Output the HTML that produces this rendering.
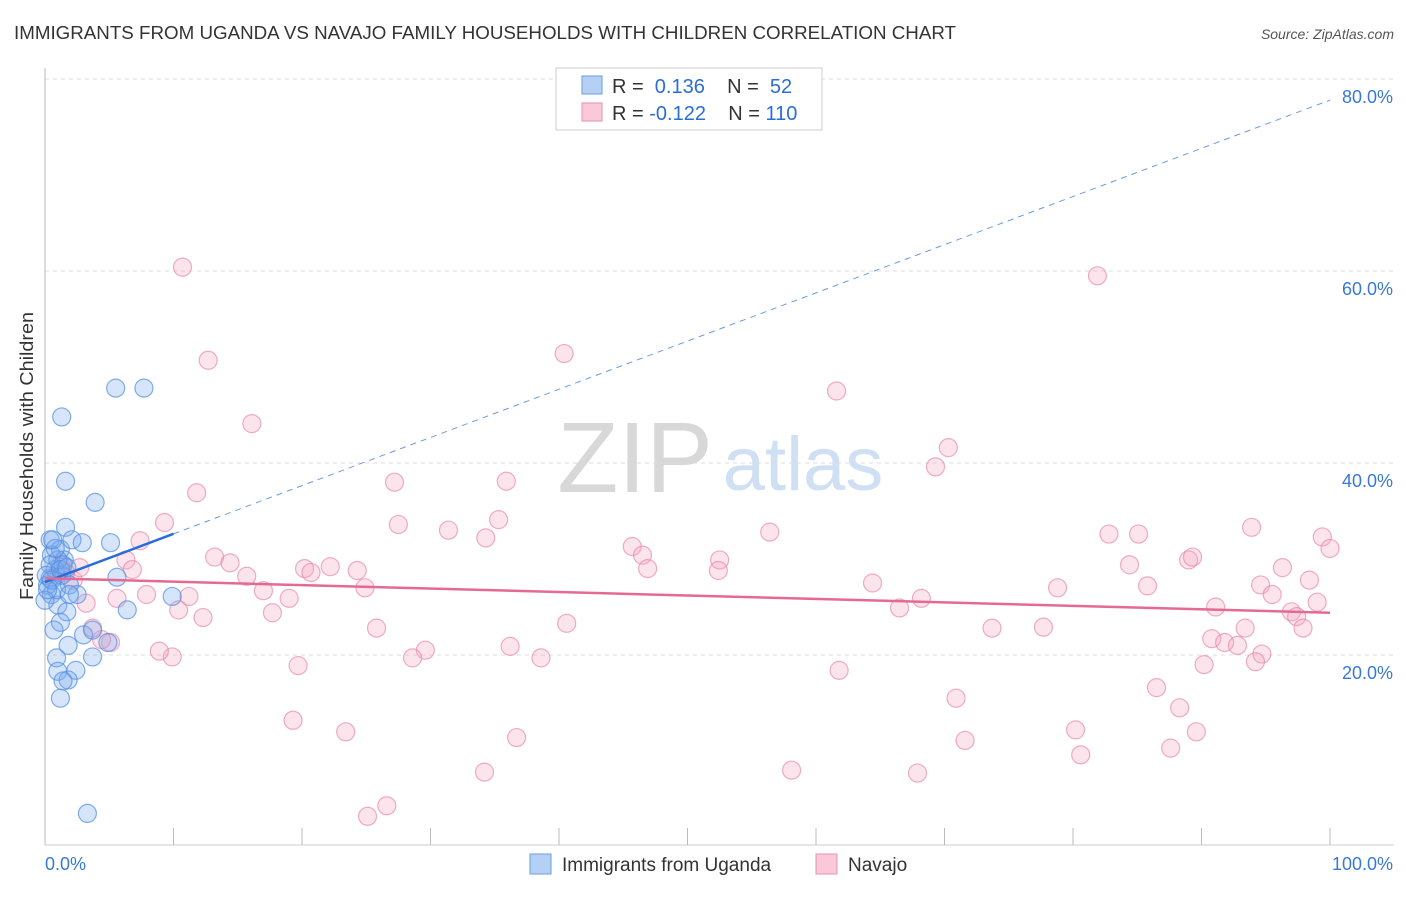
<!DOCTYPE html>
<html><head><meta charset="utf-8"><style>
body{margin:0;background:#fff;font-family:"Liberation Sans",sans-serif;}
svg text{font-family:"Liberation Sans",sans-serif;}
</style></head><body>
<svg id="chart" width="1406" height="892" xmlns="http://www.w3.org/2000/svg">
<text x="14" y="39" font-size="18" textLength="942" lengthAdjust="spacingAndGlyphs" fill="#333">IMMIGRANTS FROM UGANDA VS NAVAJO FAMILY HOUSEHOLDS WITH CHILDREN CORRELATION CHART</text>
<text x="1394" y="39" font-size="14" fill="#555" text-anchor="end" font-style="italic">Source: ZipAtlas.com</text>
<text x="33" y="456" font-size="18" textLength="288" lengthAdjust="spacingAndGlyphs" fill="#333" text-anchor="middle" transform="rotate(-90 33 456)">Family Households with Children</text>
<g><text x="635" y="492" font-size="100" fill="#d8d8d8" font-family="Liberation Serif" text-anchor="middle">ZIP</text><text x="803" y="490" font-size="76" fill="#cfe0f5" text-anchor="middle">atlas</text></g>
<g id="grid"></g><g id="marks"></g>
<g>
<rect x="556" y="68" width="266" height="62" fill="#fff" stroke="#ccc"/>
<rect x="582" y="76" width="20" height="18" fill="#b5d0f5" stroke="#6a9de0"/>
<rect x="582" y="103" width="20" height="18" fill="#f9c9d8" stroke="#e890b0"/>
<text x="612" y="93" font-size="20" fill="#333">R = <tspan fill="#2a6dd9">&#160;0.136</tspan>&#160;&#160;&#160; N = <tspan fill="#2a6dd9">&#160;52</tspan></text>
<text x="612" y="120" font-size="20" fill="#333">R = <tspan fill="#2a6dd9">-0.122</tspan>&#160;&#160;&#160; N = <tspan fill="#2a6dd9">110</tspan></text>
</g>
<g>
<rect x="530" y="854" width="21" height="20" fill="#b5d0f5" stroke="#6a9de0"/>
<text x="562" y="871" font-size="19" fill="#333">Immigrants from Uganda</text>
<rect x="816" y="854" width="21" height="20" fill="#f9c9d8" stroke="#e890b0"/>
<text x="848" y="871" font-size="19" fill="#333">Navajo</text>
</g>
</svg>
<script>
const blueX=[1.3,1.6,3.9,5.5,7.7,1.6,0.4,1.2,2.1,2.9,5.1,0.5,1.5,0.8,0.4,1.3,1.9,0.5,1.0,1.7,2.5,5.6,1.2,0.7,3.0,3.7,1.8,4.9,0.9,3.7,1.0,2.4,1.8,1.4,1.2,6.4,9.9,3.3,0.2,0.4,0.9,0.1,0.5,1.4,1.0,0.0,0.8,1.9,0.2,1.2,1.7,0.6];
const blueY=[44.8,38.1,35.9,47.8,47.8,33.3,32.0,31.0,32.0,31.7,31.7,30.4,29.9,28.9,28.0,28.3,27.3,26.3,25.2,24.5,26.3,28.1,23.4,22.6,22.1,22.6,21.0,21.3,19.7,19.8,18.3,18.4,17.4,17.3,15.5,24.7,26.1,3.5,27.3,29.4,26.8,28.3,27.8,29.4,29.9,25.7,31.1,26.3,26.8,28.9,29.1,32.0];
const pinkX=[10.7,12.7,16.1,11.8,9.3,7.4,6.3,6.8,5.6,7.9,10.4,11.2,12.3,13.2,14.4,15.7,17.0,17.7,19.0,20.2,20.7,22.2,24.3,24.9,27.5,27.2,31.4,34.3,35.3,35.9,40.4,45.7,46.5,46.9,52.5,52.4,56.4,61.6,64.4,66.5,68.2,69.3,70.3,81.9,82.8,84.4,85.1,85.8,78.8,77.7,73.7,89.0,89.3,91.1,93.9,94.6,96.3,95.5,97.0,97.4,97.9,98.4,99.0,99.4,100,93.4,90.8,91.8,92.8,94.7,94.2,90.2,86.5,88.3,89.6,87.6,80.6,80.2,70.9,71.6,67.9,61.8,58.1,38.6,40.6,36.2,34.2,36.7,29.6,28.6,25.8,23.4,26.6,25.1,19.7,19.3,9.9,8.9,5.1,4.4,3.7,3.2,2.2,2.7,1.6,1.2,0.9];
const pinkY=[60.4,50.7,44.1,36.9,33.8,31.9,29.9,28.9,25.9,26.3,24.7,26.1,23.9,30.2,29.6,28.2,26.7,24.4,25.9,29.0,28.6,29.2,28.8,27.0,33.6,38.0,33.0,32.2,34.1,38.1,51.4,31.3,30.4,29.0,29.9,28.8,32.8,47.5,27.5,24.9,25.9,39.6,41.6,59.5,32.6,29.4,32.6,27.2,27.0,22.9,22.8,29.9,30.2,25.0,33.3,27.3,29.1,26.3,24.5,24.0,22.8,27.8,25.5,32.3,31.1,22.8,21.7,21.3,21.0,20.1,19.3,19.0,16.6,14.5,12.0,10.3,9.6,12.2,15.5,11.1,7.7,18.4,8.0,19.7,23.3,20.9,7.8,11.4,20.5,19.7,22.8,12.0,4.3,3.2,18.9,13.2,19.8,20.4,21.3,21.6,22.8,25.4,27.8,29.1,28.6,29.4,28.3];
const yTicks=[20,40,60,80];
const yTickLabels=["20.0%","40.0%","60.0%","80.0%"];
const xTicks=[0,10,20,30,40,50,60,70,80,90,100];
const xTickLabels=["0.0%","100.0%"];
const blueTrend=[27.6,0.502,10]; // intercept, slope, solid-end x
const pinkTrend=[28.0,-0.036];
const sx=v=>45+v*12.85, sy=v=>847-v*9.6;
const NS="http://www.w3.org/2000/svg";
function mk(p,t,a){const e=document.createElementNS(NS,t);for(const k in a)e.setAttribute(k,a[k]);p.appendChild(e);return e;}
const g=document.getElementById('grid'), m=document.getElementById('marks');
yTicks.forEach((v,i)=>{
 const l=mk(g,'line',{x1:45,x2:1394,y1:sy(v),y2:sy(v),stroke:'#ddd','stroke-dasharray':'4,4'});
 
 
 const t=mk(g,'text',{x:1393,y:sy(v)+24,'font-size':18,fill:'#3a78d8','text-anchor':'end'});t.textContent=yTickLabels[i];
 
 
});
const ax=mk(g,'line',{x1:45,x2:45,y1:68,y2:845,stroke:'#bbb'});


const bx=mk(g,'line',{x1:45,x2:1394,y1:845,y2:845,stroke:'#ccc'});


xTicks.forEach(v=>{const t=mk(g,'line',{x1:sx(v),x2:sx(v),y1:828,y2:845,stroke:'#bbb'});
 
 });
[[0,'start',45],[100,'end',1393]].forEach((a,i)=>{const t=mk(g,'text',{x:a[2],y:870,'font-size':18,fill:'#3a78d8','text-anchor':a[1]});t.textContent=xTickLabels[i];
 
 });
pinkX.forEach((x,i)=>{const c=mk(m,'circle',{cx:sx(x),cy:sy(pinkY[i]),r:9,fill:'rgba(245,165,192,0.3)',stroke:'rgba(230,130,165,0.65)','stroke-width':1.2});
 
 });
blueX.forEach((x,i)=>{const c=mk(m,'circle',{cx:sx(x),cy:sy(blueY[i]),r:9,fill:'rgba(120,170,240,0.3)',stroke:'rgba(80,140,225,0.7)','stroke-width':1.2});
 
 });
const bd=mk(m,'line',{x1:sx(blueTrend[2]),y1:sy(blueTrend[0]+blueTrend[1]*blueTrend[2]),x2:sx(100),y2:sy(blueTrend[0]+blueTrend[1]*100),stroke:'#6a9de0','stroke-dasharray':'6,5','stroke-width':1});


const bs=mk(m,'line',{x1:sx(0),y1:sy(blueTrend[0]),x2:sx(blueTrend[2]),y2:sy(blueTrend[0]+blueTrend[1]*blueTrend[2]),stroke:'#2a6dd9','stroke-width':2.5});


const ps=mk(m,'line',{x1:sx(0),y1:sy(pinkTrend[0]),x2:sx(100),y2:sy(pinkTrend[0]+pinkTrend[1]*100),stroke:'#e46a94','stroke-width':2.5});


</script>
</body></html>
